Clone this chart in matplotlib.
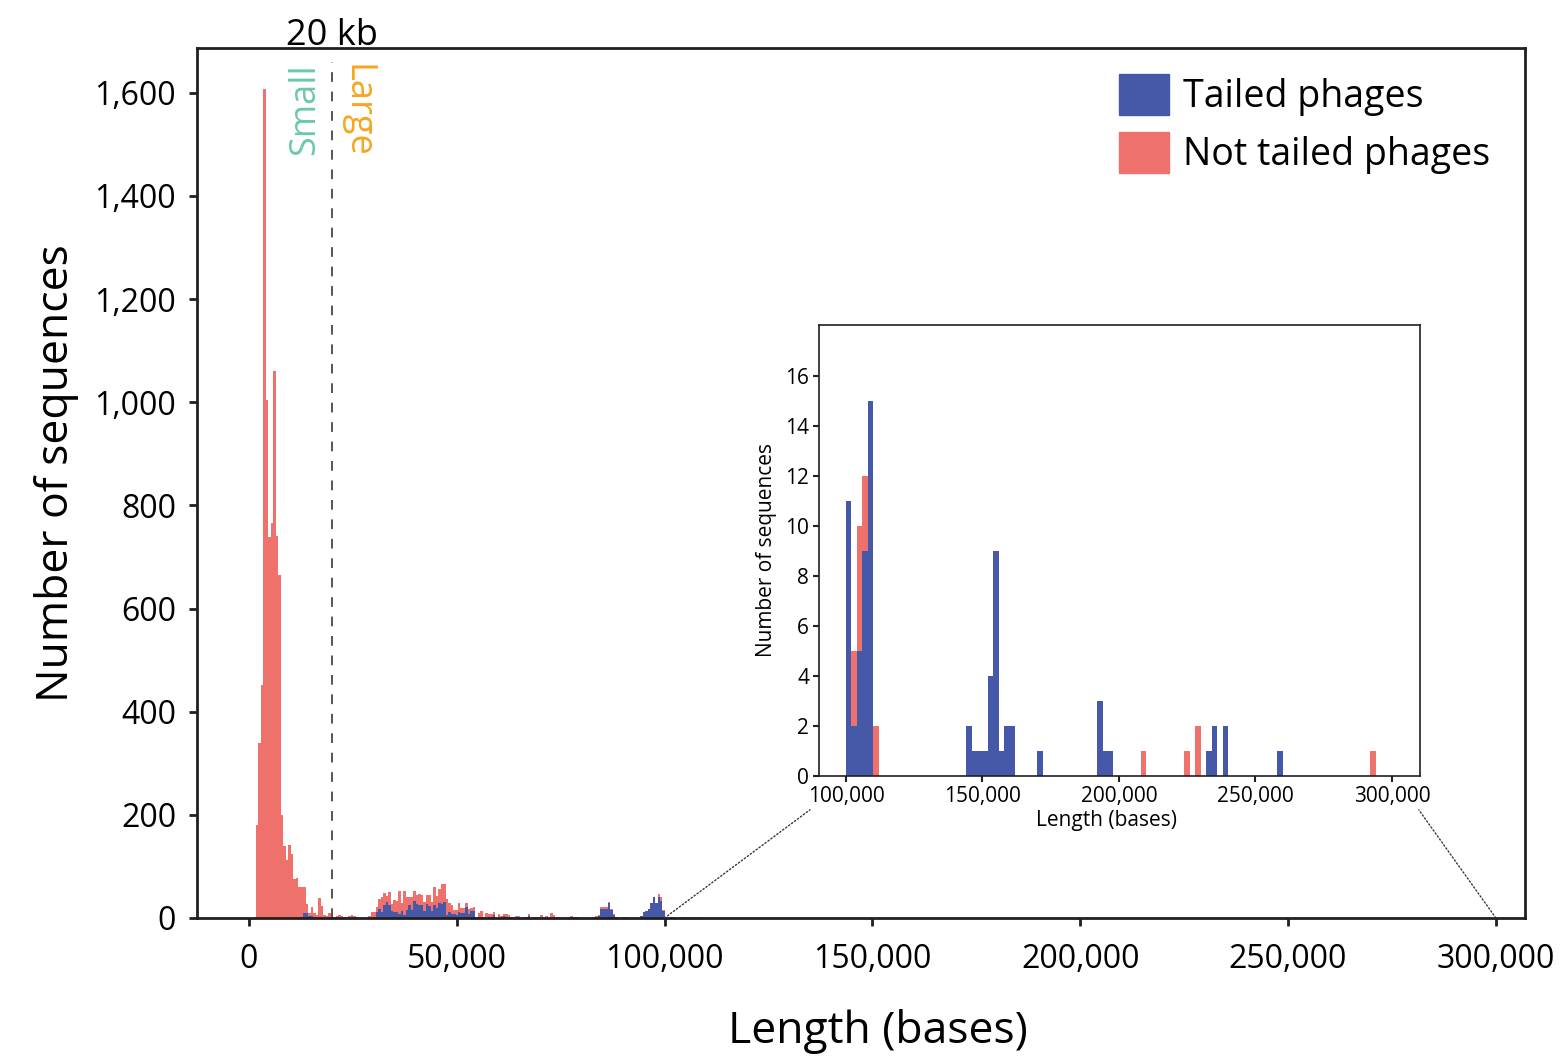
import matplotlib
matplotlib.use("Agg")
import matplotlib.pyplot as plt
import numpy as np
from matplotlib.patches import ConnectionPatch, Patch
from matplotlib.ticker import FuncFormatter, MultipleLocator

plt.rcParams['font.family'] = ['Open Sans', 'DejaVu Sans']

BLUE = '#4559A8'
RED = '#EF716B'

# main histogram: bins of 600 bases starting at 1,700
main_bin_start = 1700
main_bin_width = 600
# total height of each stacked bar (tailed + not tailed)
main_total = [
    181, 340, 451, 1607, 1005, 738, 765, 1060, 741, 665, 199, 140, 113, 141, 124, 76, 77, 61, 60, 60,
    27, 10, 21, 9, 5, 39, 23, 6, 3, 10, 10, 1, 4, 6, 3, 1, 0, 4, 5, 3,
    1, 0, 0, 0, 0, 3, 12, 12, 21, 37, 40, 48, 42, 50, 28, 35, 33, 52, 29, 53,
    41, 41, 41, 53, 45, 46, 44, 31, 45, 45, 31, 60, 43, 56, 66, 66, 37, 29, 25, 16,
    16, 29, 19, 19, 29, 17, 20, 21, 2, 10, 14, 2, 10, 8, 8, 12, 0, 8, 3, 8,
    8, 6, 2, 0, 4, 4, 0, 2, 2, 8, 0, 2, 2, 0, 6, 0, 4, 0, 10, 6,
    2, 2, 0, 0, 0, 0, 4, 2, 1, 0, 0, 0, 0, 0, 0, 2, 4, 6, 21, 21,
    21, 31, 17, 8, 2, 0, 0, 2, 2, 0, 0, 0, 0, 0, 4, 12, 14, 17, 29, 41,
    29, 47, 41, 16, 2, 0, 2, 2, 0, 0, 0, 2, 2, 0, 0, 2, 0, 0, 2, 0,
]
main_tailed = [
    0, 0, 0, 0, 0, 0, 0, 0, 0, 0, 0, 0, 0, 0, 0, 0, 0, 0, 2, 10,
    10, 3, 4, 0, 0, 0, 0, 0, 0, 0, 0, 0, 0, 0, 0, 0, 0, 0, 0, 0,
    0, 0, 0, 0, 0, 0, 0, 0, 12, 17, 12, 25, 31, 26, 14, 11, 12, 8, 13, 5,
    15, 26, 15, 32, 28, 26, 25, 14, 27, 24, 14, 25, 20, 29, 28, 31, 6, 12, 8, 8,
    6, 12, 10, 10, 21, 8, 14, 14, 2, 2, 2, 0, 0, 2, 0, 6, 0, 0, 0, 3,
    2, 0, 2, 0, 0, 0, 0, 0, 2, 4, 0, 0, 2, 0, 0, 0, 0, 0, 0, 0,
    0, 0, 0, 0, 0, 0, 0, 2, 1, 0, 0, 0, 0, 0, 0, 2, 2, 4, 17, 17,
    17, 29, 16, 6, 1, 0, 0, 0, 0, 0, 0, 0, 0, 0, 4, 12, 14, 17, 29, 41,
    29, 41, 33, 14, 2, 0, 2, 2, 0, 0, 0, 0, 0, 0, 0, 0, 0, 0, 2, 0,
]

# inset histogram (sequences longer than 100 kb): bins of 2,000 bases
inset_bin_width = 2000
inset_left = [100000, 102000, 104000, 106000, 108000, 110000, 144000, 146000, 148000, 150000,
              152000, 154000, 156000, 158000, 160000, 170000, 192000, 194000, 196000, 208000,
              224000, 228000, 232000, 234000, 238000, 258000, 292000]
inset_total = [11, 5, 10, 12, 15, 2, 2, 1, 1, 1,
               4, 9, 1, 2, 2, 1, 3, 1, 1, 1,
               1, 2, 1, 2, 2, 1, 1]
inset_tailed = [11, 2, 5, 9, 15, 0, 2, 1, 1, 1,
                4, 9, 1, 2, 2, 1, 3, 1, 1, 0,
                0, 0, 1, 2, 2, 1, 0]

fig = plt.figure(figsize=(15.62, 10.61), dpi=100)
ax = fig.add_axes([0.1261, 0.1348, 0.8502, 0.8200])

edges = main_bin_start + main_bin_width * np.arange(len(main_total))
ax.bar(edges, main_total, width=main_bin_width, align='edge', color=RED, linewidth=0)
ax.bar(edges, main_tailed, width=main_bin_width, align='edge', color=BLUE, linewidth=0)

ax.set_xlim(-12500, 307000)
ax.set_ylim(0, 1687)
ax.xaxis.set_major_locator(MultipleLocator(50000))
ax.yaxis.set_major_locator(MultipleLocator(200))
fmt = FuncFormatter(lambda v, p: f"{int(v):,}")
ax.xaxis.set_major_formatter(fmt)
ax.yaxis.set_major_formatter(fmt)
for s in ax.spines.values():
    s.set_linewidth(2.0)
    s.set_color('#231f20')
ax.tick_params(axis='both', labelsize=23, length=6, width=2, color='#231f20')
ax.tick_params(axis='x', pad=12)
ax.tick_params(axis='y', pad=9)
ax.set_xlabel('Length (bases)', fontsize=32)
ax.xaxis.set_label_coords(0.513, -0.105)
ax.set_ylabel('Number of sequences', fontsize=32)
ax.yaxis.set_label_coords(-0.089, 0.511)

# 20 kb threshold
ax.axvline(20000, ymax=0.984, color='#555555', lw=1.4, linestyle=(0, (5, 5)))
ax.text(20000, 1.003, '20 kb', transform=ax.get_xaxis_transform(),
        ha='center', va='baseline', fontsize=26)
ax.text(13500, 0.982, 'Small', transform=ax.get_xaxis_transform(), rotation=90,
        ha='center', va='top', fontsize=26, color='#6DC9A8')
ax.text(26000, 0.982, 'Large', transform=ax.get_xaxis_transform(), rotation=270,
        ha='center', va='top', fontsize=26, color='#F8A51F')

handles = [Patch(color=BLUE, label='Tailed phages'), Patch(color=RED, label='Not tailed phages')]
fig.legend(handles=handles, loc='upper left', bbox_to_anchor=(1119 / 1562, 1 - 74 / 1061),
           frameon=False, fontsize=27, handlelength=1.33, handleheight=1.3,
           handletextpad=0.37, labelspacing=0.42, borderpad=0, borderaxespad=0)

# inset
axi = fig.add_axes([0.5243, 0.2686, 0.3848, 0.4251])
axi.bar(inset_left, inset_total, width=inset_bin_width, align='edge', color=RED, linewidth=0)
axi.bar(inset_left, inset_tailed, width=inset_bin_width, align='edge', color=BLUE, linewidth=0)
axi.set_xlim(90100, 310300)
axi.set_ylim(0, 18.04)
axi.xaxis.set_major_locator(MultipleLocator(50000))
axi.set_yticks(np.arange(0, 17, 2))
axi.xaxis.set_major_formatter(fmt)
for s in axi.spines.values():
    s.set_linewidth(1.2)
    s.set_color('#231f20')
axi.tick_params(axis='both', labelsize=15, length=4, width=1.5, color='#231f20', pad=3)
axi.set_xlabel('Length (bases)', fontsize=15)
axi.xaxis.set_label_coords(0.478, -0.075)
axi.set_ylabel('Number of sequences', fontsize=15, labelpad=6)

for xm, xi in [(100000, -0.015), (300000, 0.998)]:
    con = ConnectionPatch(xyA=(xm, 0), coordsA=ax.transData,
                          xyB=(xi, -0.075), coordsB=axi.transAxes,
                          linestyle=':', color='#333333', lw=1.0)
    fig.add_artist(con)

fig.savefig('out.png', dpi=100)
